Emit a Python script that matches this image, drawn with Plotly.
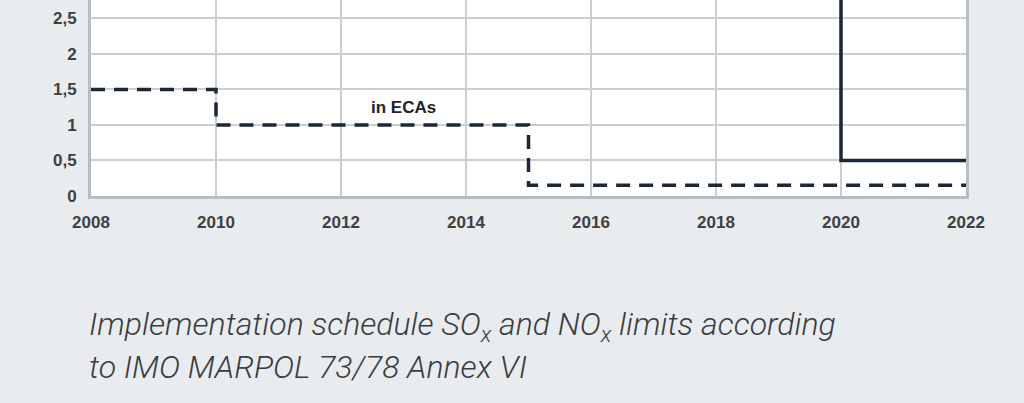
import plotly.graph_objects as go

# Data
eca_years = [2008, 2010, 2015, 2022]
eca_limits = [1.5, 1.0, 0.15, 0.15]
global_years = [2008, 2012, 2020, 2022]
global_limits = [4.5, 3.5, 0.5, 0.5]
x_ticks = [2008, 2010, 2012, 2014, 2016, 2018, 2020, 2022]
y_ticks = [0, 0.5, 1, 1.5, 2, 2.5]

LINE = "#1b2838"
BG = "#e9ecef"
GRID = "#cbcfd2"
AXIS = "#b9bdc1"

W, H = 1024, 403
ML, MR, MT, MB = 91, 58, 0, 207
plot_h = H - MT - MB

fig = go.Figure()
fig.add_trace(go.Scatter(x=global_years, y=global_limits, mode="lines",
                         line=dict(color=LINE, width=3.5, shape="hv"),
                         showlegend=False, hoverinfo="skip"))
fig.add_trace(go.Scatter(x=eca_years, y=eca_limits, mode="lines",
                         line=dict(color=LINE, width=3.5, shape="hv", dash="14px,9px"),
                         showlegend=False, hoverinfo="skip"))

fig.add_annotation(x=2013, y=1.24, text="<b>in ECAs</b>", showarrow=False,
                   font=dict(family="Liberation Sans, Arial", size=17, color="#222"),
                   xanchor="center", yanchor="middle")

cap_font = dict(family="Roboto, Liberation Sans, Arial", size=32, color="#3a3d40", style="italic", weight=300)
def py(pix):
    return (plot_h - (pix - MT)) / plot_h

fig.add_annotation(xref="paper", yref="paper", x=(87 - ML) / (W - ML - MR), y=py(326),
                   text="Implementation schedule SO<sub>x</sub> and NO<sub>x</sub> limits according",
                   showarrow=False, xanchor="left", yanchor="middle", font=cap_font)
fig.add_annotation(xref="paper", yref="paper", x=(87 - ML) / (W - ML - MR), y=py(367),
                   text="to IMO MARPOL 73/78 Annex VI",
                   showarrow=False, xanchor="left", yanchor="middle", font=cap_font)

tick_font = dict(family="Liberation Sans, Arial", size=17, color="#404040", weight="bold")

fig.update_layout(
    width=W, height=H,
    margin=dict(l=ML, r=MR, t=MT, b=MB, pad=0),
    paper_bgcolor=BG, plot_bgcolor="white",
    separators=", ",
    xaxis=dict(range=[2008, 2022], tickvals=x_ticks, tickformat="d",
               showgrid=True, gridcolor=GRID, gridwidth=2,
               showline=True, linecolor=AXIS, linewidth=3, mirror=False,
               zeroline=False, ticks="", tickfont=tick_font, ticklabelstandoff=9),
    yaxis=dict(range=[0, 2.76], tickvals=y_ticks,
               showgrid=True, gridcolor=GRID, gridwidth=2,
               showline=True, linecolor=AXIS, linewidth=3, mirror=True,
               zeroline=False, ticks="", tickfont=tick_font, ticklabelstandoff=8),
)

fig.write_html("out.html")
